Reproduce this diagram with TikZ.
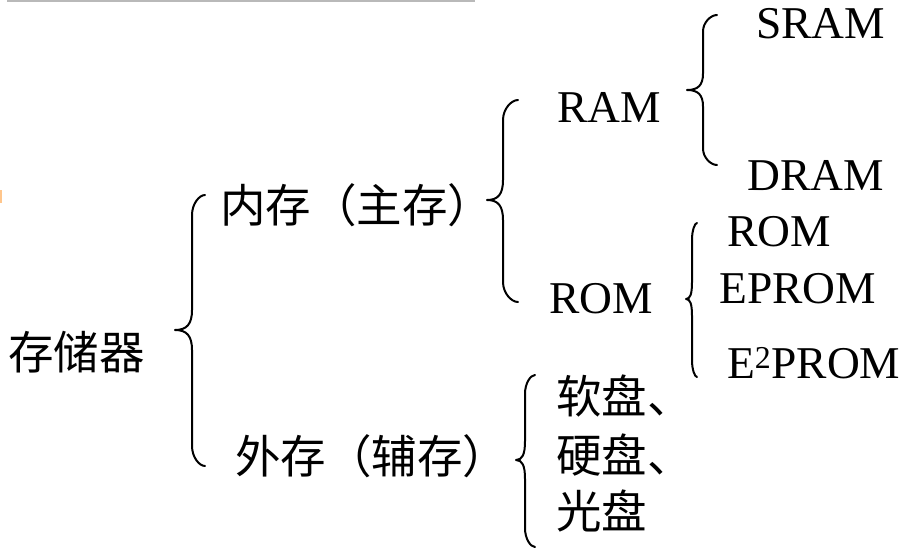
\documentclass[tikz,border=0pt]{standalone}
\usepackage{fontspec}
\setmainfont{Liberation Serif}
\newfontfamily\cjk{Noto Sans CJK SC}
\newcommand\drawbrace[6]{%
  % #1 end x, #2 line x, #3 tip x, #4 top y, #5 tip y, #6 bottom y
  \pgfmathsetmacro\bro{min(20,0.22*(#5-#4))}%
  \pgfmathsetmacro\bcx{#2+0.55*(#1-#2)}%
  \draw[bracestyle] (#1,#4) .. controls (\bcx,#4) and (#2,{#4+0.45*\bro}) .. (#2,{#4+\bro})
    -- (#2,{#5-\bro}) .. controls (#2,{#5-0.3*\bro}) and ({#2-0.3*(#2-#3)},#5) .. (#3,#5)
    .. controls ({#2-0.3*(#2-#3)},#5) and (#2,{#5+0.3*\bro}) .. (#2,{#5+\bro})
    -- (#2,{#6-\bro}) .. controls (#2,{#6-0.45*\bro}) and (\bcx,#6) .. (#1,#6);}
\begin{document}
\begin{tikzpicture}[x=1pt,y=-1pt,
  bracestyle/.style={line width=2pt,line cap=round,line join=round},
  cn/.style={inner sep=0pt,anchor=west,font=\cjk\fontsize{45.5}{54}\selectfont},
  en/.style={inner sep=0pt,anchor=base west,font=\fontsize{45.5}{55}\selectfont}]
\useasboundingbox[fill=white] (0,0) rectangle (922,552);
\draw[gray!55,line width=1.5pt] (7,0.75) -- (475,0.75);
\draw[orange!45,line width=1.5pt] (0.75,190) -- (0.75,203);
% texts
\node[cn] (root) at (8,352) {存储器};
\node[cn] (nei) at (220,205) {内存（主存）};
\node[cn] (wai) at (235,456) {外存（辅存）};
\node[en] (ram) at (557,122) {RAM};
\node[en] (rom) at (549,313) {ROM};
\node[en] (sram) at (756,38) {SRAM};
\node[en] (dram) at (747,190) {DRAM};
\node[en] (rom2) at (727,246) {ROM};
\node[en] (eprom) at (719,303) {EPROM};
\node[en] (e2prom) at (727,378) {E\textsuperscript{2}PROM};
\node[cn] (ruan) at (556,396) {软盘、};
\node[cn] (ying) at (556,455) {硬盘、};
\node[cn] (guang) at (556,511) {光盘};
% braces
\drawbrace{205}{192}{175}{195}{330}{466}
\drawbrace{518}{503}{487}{100}{200}{302}
\drawbrace{717}{703}{687}{15}{90}{165}
\drawbrace{697}{692}{686}{223}{299}{377}
\drawbrace{535}{525}{516}{375}{460}{547}
\end{tikzpicture}
\end{document}
